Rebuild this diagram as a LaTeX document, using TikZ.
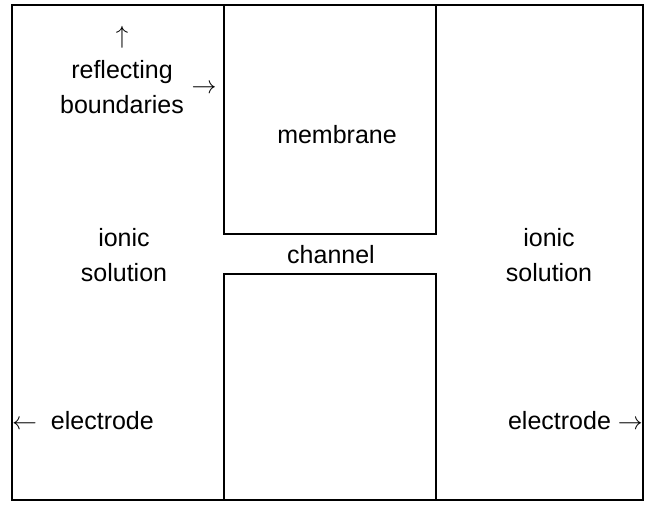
\documentclass[tikz,border=0pt]{standalone}
\usepackage{fontspec}
\setmainfont{Liberation Sans}
\begin{document}
\begin{tikzpicture}[x=1pt,y=-1pt,
    label/.style={inner sep=0pt,font=\fontsize{25}{35}\selectfont,align=center}]
    \useasboundingbox (0,0) rectangle (655,504);
    % outer cell and membrane
    \draw[line width=1.6pt] (12,5) rectangle (643,500);
    \draw[line width=1.1pt] (224,5) rectangle (436,234);
    \draw[line width=1.1pt] (224,274) rectangle (436,500);

    \node[label] (refl) at (122,70) {$\uparrow$\\reflecting\\boundaries};
    \node[label] (reflarrow) at (204,89) {$\rightarrow$};
    \node[label] (membrane) at (337,135) {membrane};
    \node[label] (channel) at (331,255) {channel};

    \node[label] (solleft) at (124,255) {ionic\\solution};
    \node[label] (solright) at (549,255) {ionic\\solution};

    \node[label,anchor=west] (elleft) at (12,421) {$\leftarrow$\ \ electrode};
    \node[label,anchor=east] (elright) at (643,421) {electrode\hspace{7pt}$\rightarrow$};
\end{tikzpicture}
\end{document}
